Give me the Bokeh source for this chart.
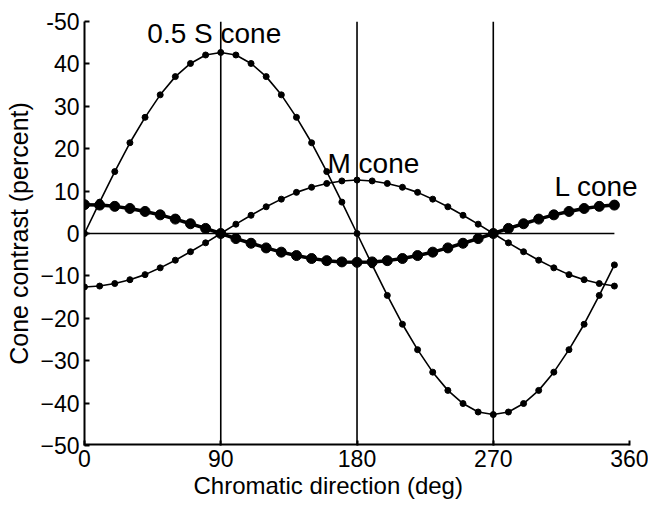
from bokeh.plotting import figure
from bokeh.models import Range1d, FixedTicker, Title
from bokeh.core.properties import value
from bokeh.embed import file_html
from bokeh.resources import INLINE

# Chromatic direction (deg)
directions = [0, 10, 20, 30, 40, 50, 60, 70, 80, 90, 100, 110, 120, 130, 140, 150, 160, 170,
              180, 190, 200, 210, 220, 230, 240, 250, 260, 270, 280, 290, 300, 310, 320, 330, 340, 350]

# Cone contrast (percent)
s_cone_half = [0, 7.4, 14.6, 21.4, 27.4, 32.7, 37.0, 40.1, 42.1, 42.7, 42.1, 40.1, 37.0, 32.7, 27.4, 21.4, 14.6, 7.4,
               0, -7.4, -14.6, -21.4, -27.4, -32.7, -37.0, -40.1, -42.1, -42.7, -42.1, -40.1, -37.0, -32.7, -27.4, -21.4, -14.6, -7.4]
m_cone = [-12.6, -12.4, -11.8, -10.9, -9.7, -8.1, -6.3, -4.3, -2.2, 0, 2.2, 4.3, 6.3, 8.1, 9.7, 10.9, 11.8, 12.4,
          12.6, 12.4, 11.8, 10.9, 9.7, 8.1, 6.3, 4.3, 2.2, 0, -2.2, -4.3, -6.3, -8.1, -9.7, -10.9, -11.8, -12.4]
l_cone = [6.8, 6.7, 6.4, 5.9, 5.2, 4.4, 3.4, 2.3, 1.2, 0, -1.2, -2.3, -3.4, -4.4, -5.2, -5.9, -6.4, -6.7,
          -6.8, -6.7, -6.4, -5.9, -5.2, -4.4, -3.4, -2.3, -1.2, 0, 1.2, 2.3, 3.4, 4.4, 5.2, 5.9, 6.4, 6.7]

x_ticks = [0, 90, 180, 270, 360]
x_min, x_max = 0, 360
y_ticks = [-50, -40, -30, -20, -10, 0, 10, 20, 30, 40, 50]
y_min, y_max = -50, 50
y_tick_labels = {50: "-50"}
ref_directions = [90, 180, 270]

labels = ["0.5 S cone", "M cone", "L cone"]
label_x = [41.5, 160.5, 310.5]
label_y = [47.2, 16.5, 11.1]

x_title = "Chromatic direction (deg)"
y_title = "Cone contrast (percent)"

FONT = "Liberation Sans"

# frame runs a little past 360 deg so that the "L cone" label is not clipped
p = figure(width=648, height=506, x_range=Range1d(0, 371.2), y_range=Range1d(y_min, y_max),
           output_backend="svg", toolbar_location=None,
           min_border_left=84, min_border_right=2, min_border_top=21, min_border_bottom=61)
p.outline_line_color = None
p.xgrid.grid_line_color = None
p.ygrid.grid_line_color = None
p.background_fill_color = "white"
p.border_fill_color = "white"

for ax in (p.xaxis[0], p.yaxis[0]):
    ax.axis_line_width = 2
    ax.axis_line_color = "black"
    ax.major_tick_in = 5
    ax.major_tick_out = 0
    ax.major_tick_line_width = 2
    ax.minor_tick_line_color = None
    ax.major_label_text_font = FONT
    ax.major_label_text_font_size = "23px"
    ax.major_label_text_color = "black"
    ax.axis_label_text_font = FONT
    ax.axis_label_text_font_style = "normal"
    ax.axis_label_text_color = "black"

p.xaxis.axis_line_color = None  # drawn below, only from 0 to 360
p.xaxis.ticker = FixedTicker(ticks=x_ticks)
p.yaxis.ticker = FixedTicker(ticks=y_ticks)
p.yaxis.major_label_overrides = y_tick_labels
p.yaxis.axis_label = y_title
p.yaxis.axis_label_text_font_size = "25px"
p.xaxis.major_label_standoff = 4
p.yaxis.major_label_standoff = 5
p.yaxis.axis_label_standoff = 4

# x-axis title, placed where the original has it
p.add_layout(Title(text=x_title, align="left", offset=109, text_font=FONT, text_font_size="24px",
                   text_font_style="normal", text_color="black", standoff=0), "below")

# bottom axis line (0..360)
p.segment(x0=x_min, y0=y_min, x1=x_max, y1=y_min, line_color="black", line_width=4)

# reference lines
for d in ref_directions:
    p.segment(x0=d, y0=y_min, x1=d, y1=y_max, line_color="black", line_width=1.6)
p.segment(x0=directions[0], y0=0, x1=directions[-1], y1=0, line_color="black", line_width=1.6)

# curves
p.line(directions, s_cone_half, line_color="black", line_width=1.6)
p.scatter(directions, s_cone_half, size=6, color="black")
p.line(directions, m_cone, line_color="black", line_width=1.6)
p.scatter(directions, m_cone, size=6, color="black")
p.line(directions, l_cone, line_color="black", line_width=3.5)
p.scatter(directions, l_cone, size=10, color="black")

p.text(x=label_x, y=label_y, text=labels, text_font=value(FONT), text_font_size="28px",
       text_color="black", text_baseline="alphabetic", text_align="left")

open("out.html", "w").write(file_html(p, INLINE))
